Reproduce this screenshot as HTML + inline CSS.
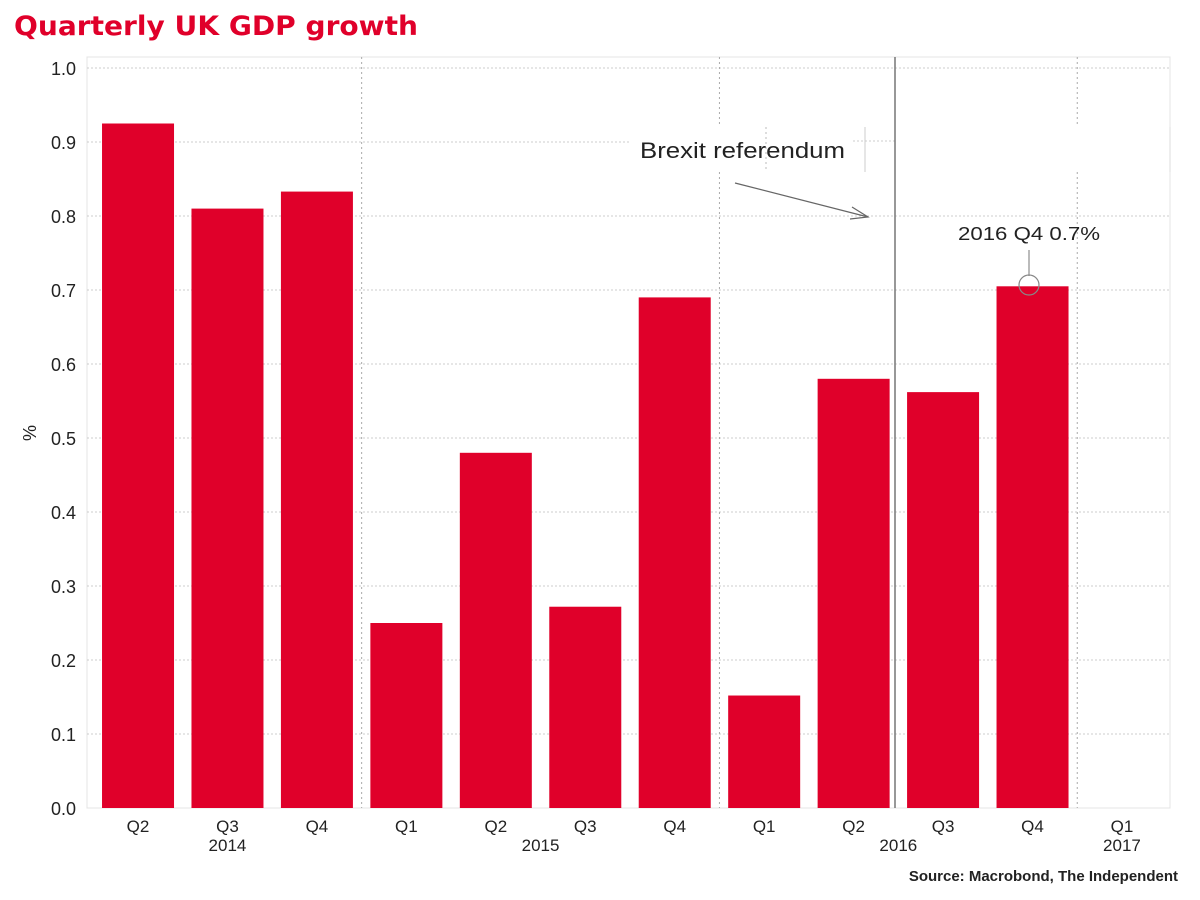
<!DOCTYPE html>
<html><head><meta charset="utf-8"><style>
body{margin:0;background:#fff;}
svg{display:block;font-family:"Liberation Sans",Arial,sans-serif;}
</style></head><body>
<svg id="chart" width="1200" height="900">
<text x="14" y="35" font-size="27" font-weight="bold" fill="#e0002a" textLength="404" lengthAdjust="spacingAndGlyphs" style="font-family:'DejaVu Sans',sans-serif">Quarterly UK GDP growth</text>
<rect x="87" y="57" width="1083" height="751" fill="none" stroke="#e4e4e4"/>
<g id="grid"></g><g id="bars"></g><g id="xaxis"></g>
<rect x="630" y="127" width="540" height="45" fill="#fff"/>
<line x1="853" y1="141" x2="895" y2="141" stroke="#ccc" stroke-dasharray="2,2"/>
<line x1="766" y1="127" x2="766" y2="172" stroke="#bbb" stroke-dasharray="2,3"/>
<line x1="865" y1="127" x2="865" y2="172" stroke="#ccc"/>
<line x1="1170" y1="127" x2="1170" y2="172" stroke="#ddd"/>
<line x1="895" y1="57" x2="895" y2="808" stroke="#777" stroke-width="1.5"/>
<text x="640" y="158" font-size="22" fill="#222" textLength="205" lengthAdjust="spacingAndGlyphs">Brexit referendum</text>
<line x1="735" y1="183" x2="868" y2="217" stroke="#666" stroke-width="1.2"/>
<polyline points="852,207 868,217 850,219" fill="none" stroke="#666" stroke-width="1.2"/>
<text x="958" y="240" font-size="18" fill="#222" textLength="142" lengthAdjust="spacingAndGlyphs">2016 Q4 0.7%</text>
<line x1="1029" y1="250" x2="1029" y2="276" stroke="#777"/>
<circle cx="1029" cy="285" r="10" fill="none" stroke="#888" stroke-width="1.2"/>
<text transform="translate(36,433) rotate(-90)" font-size="18" fill="#222" text-anchor="middle">%</text>
<text x="1178" y="881" font-size="15" font-weight="bold" fill="#222" text-anchor="end">Source: Macrobond, The Independent</text>
</svg>
<script>
const categories=["Q2","Q3","Q4","Q1","Q2","Q3","Q4","Q1","Q2","Q3","Q4","Q1"];
const values=[0.925,0.81,0.833,0.25,0.48,0.272,0.69,0.152,0.58,0.562,0.705,null];
const years=["2014","2015","2016","2017"];
const yearIdx=[1,4.5,8.5,11];
const yTicks=[0,0.1,0.2,0.3,0.4,0.5,0.6,0.7,0.8,0.9,1.0];
const NS="http://www.w3.org/2000/svg";
const y0=808,yTop=68,x0=93.3,step=89.45,bw=72;
const ys=v=>y0-(v/1.0)*(y0-yTop);
const xc=i=>x0+step*(i+0.5);
function mk(t,a,p){const e=document.createElementNS(NS,t);for(const k in a)e.setAttribute(k,a[k]);p.appendChild(e);return e;}
const g=document.getElementById('grid'),b=document.getElementById('bars'),xa=document.getElementById('xaxis');
yTicks.forEach(v=>{
 if(v>0){const l=mk('line',{x1:87,x2:1170,y1:ys(v),y2:ys(v),stroke:'#ccc','stroke-dasharray':'2,2'},g);
 
 }
 const t=mk('text',{x:76,y:ys(v)+7,'font-size':18,'text-anchor':'end',fill:'#222'},g);
 t.textContent=v.toFixed(1);
 
 
});
[3,7,11].forEach(i=>{
 const l=mk('line',{x1:x0+step*i,x2:x0+step*i,y1:57,y2:808,stroke:'#aaa','stroke-dasharray':'2,3'},g);
 
 
});
values.forEach((v,i)=>{
 if(v!=null){const r=mk('rect',{x:xc(i)-bw/2,y:ys(v),width:bw,height:y0-ys(v),fill:'#e0002a'},b);
 
 }
 const t=mk('text',{x:xc(i),y:832,'font-size':17,'text-anchor':'middle',fill:'#222'},xa);
 t.textContent=categories[i];
 
 
});
years.forEach((yr,k)=>{
 const t=mk('text',{x:xc(yearIdx[k]),y:851,'font-size':17,'text-anchor':'middle',fill:'#222'},xa);
 t.textContent=yr;
 
 
});
</script>
</body></html>
